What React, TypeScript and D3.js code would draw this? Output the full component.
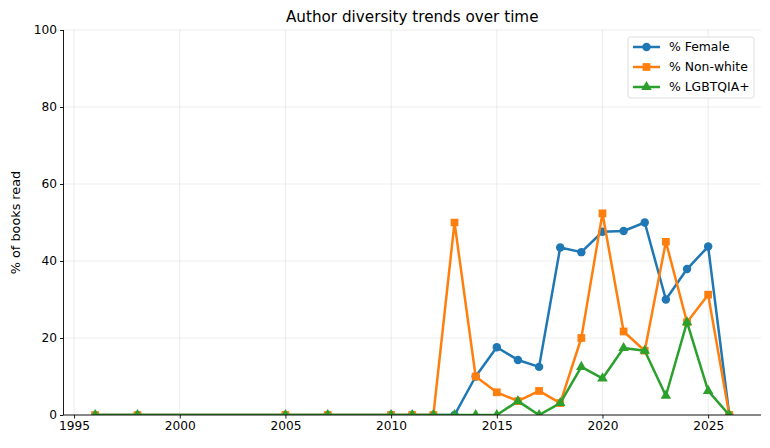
import { useEffect, useRef } from 'react';
import * as d3 from 'd3';

const years = [1996, 1998, 2005, 2007, 2010, 2011, 2012, 2013, 2014, 2015, 2016, 2017, 2018, 2019, 2020, 2021, 2022, 2023, 2024, 2025, 2026];
const female = [0, 0, 0, 0, 0, 0, 0, 0, 10, 17.6, 14.3, 12.5, 43.5, 42.3, 47.6, 47.8, 50, 30, 37.9, 43.75, 0];
const nonWhite = [0, 0, 0, 0, 0, 0, 0, 50, 10, 5.9, 3.6, 6.25, 3.1, 20, 52.4, 21.7, 16.7, 45, 24.1, 31.25, 0];
const lgbtqia = [0, 0, 0, 0, 0, 0, 0, 0, 0, 0, 3.6, 0, 3.1, 12.5, 9.5, 17.4, 16.7, 5, 24.1, 6.25, 0];
const xTicks = [1995, 2000, 2005, 2010, 2015, 2020, 2025];
const yTicks = [0, 20, 40, 60, 80, 100];

const series = [
  { name: '% Female', values: female, color: '#1f77b4', marker: 'circle' },
  { name: '% Non-white', values: nonWhite, color: '#ff7f0e', marker: 'square' },
  { name: '% LGBTQIA+', values: lgbtqia, color: '#2ca02c', marker: 'triangle' },
];

const W = 770;
const H = 448;
const margin = { top: 30, right: 9, bottom: 33, left: 63.5 };
const FONT = 'DejaVu Sans, sans-serif';

function symbolFor(kind: string) {
  if (kind === 'square') return d3.symbol(d3.symbolSquare, 60)();
  if (kind === 'triangle') return d3.symbol(d3.symbolTriangle, 48)();
  return d3.symbol(d3.symbolCircle, 56)();
}

export default function App() {
  const ref = useRef<SVGSVGElement>(null);

  useEffect(() => {
    const svg = d3.select(ref.current);
    svg.selectAll('*').remove();

    const x0 = margin.left;
    const x1 = W - margin.right;
    const y0 = H - margin.bottom;
    const y1 = margin.top;

    const x = d3.scaleLinear().domain([1994.5, 2027.5]).range([x0, x1]);
    const y = d3.scaleLinear().domain([0, 100]).range([y0, y1]);

    svg.append('defs').append('clipPath').attr('id', 'plot-clip')
      .append('rect').attr('x', x0).attr('y', y1).attr('width', x1 - x0).attr('height', y0 - y1);

    // grid
    const grid = svg.append('g').attr('stroke', '#b0b0b0').attr('stroke-opacity', 0.3).attr('stroke-width', 0.8);
    xTicks.forEach(t => grid.append('line').attr('x1', x(t)).attr('x2', x(t)).attr('y1', y0).attr('y2', y1));
    yTicks.forEach(t => grid.append('line').attr('x1', x0).attr('x2', x1).attr('y1', y(t)).attr('y2', y(t)));

    // lines and markers
    const plot = svg.append('g').attr('clip-path', 'url(#plot-clip)');
    const line = d3.line<number>().x((_, i) => x(years[i])).y(d => y(d));
    series.forEach(s => {
      plot.append('path').datum(s.values).attr('d', line)
        .attr('fill', 'none').attr('stroke', s.color).attr('stroke-width', 2.5).attr('stroke-linejoin', 'round');
      plot.append('g').selectAll('path').data(s.values).join('path')
        .attr('d', symbolFor(s.marker))
        .attr('transform', (d, i) => `translate(${x(years[i])},${y(d)})`)
        .attr('fill', s.color);
    });

    // axes
    const xAxis = svg.append('g').attr('transform', `translate(0,${y0})`)
      .call(d3.axisBottom(x).tickValues(xTicks).tickFormat(d3.format('d')).tickSizeOuter(0).tickSize(3.5).tickPadding(3));
    const yAxis = svg.append('g').attr('transform', `translate(${x0},0)`)
      .call(d3.axisLeft(y).tickValues(yTicks).tickSizeOuter(0).tickSize(3.5).tickPadding(3));
    [xAxis, yAxis].forEach(a => {
      a.selectAll('text').attr('font-family', FONT).attr('font-size', 12.2).attr('fill', '#000');
      a.selectAll('line').attr('stroke', '#000').attr('stroke-width', 0.9);
      a.select('.domain').attr('stroke', '#000').attr('stroke-width', 0.9);
    });
    xAxis.select('.domain').attr('d', `M${x0},0H${x1}`);
    yAxis.select('.domain').attr('d', `M0,${y0}V${y1}`);

    // title and y label
    svg.append('text').attr('x', (x0 + x1) / 2).attr('y', 22).attr('text-anchor', 'middle')
      .attr('font-family', FONT).attr('font-size', 15.2).text('Author diversity trends over time');
    svg.append('text').attr('transform', `translate(20,${(y0 + y1) / 2}) rotate(-90)`)
      .attr('text-anchor', 'middle').attr('font-family', FONT).attr('font-size', 12.8)
      .text('% of books read');

    // legend
    const lg = svg.append('g').attr('transform', 'translate(628,37)');
    lg.append('rect').attr('width', 126).attr('height', 61).attr('rx', 2.5)
      .attr('fill', '#fff').attr('fill-opacity', 0.8).attr('stroke', '#d5d5d5').attr('stroke-width', 0.8);
    series.forEach((s, i) => {
      const ly = 10 + i * 20;
      lg.append('line').attr('x1', 5).attr('x2', 32).attr('y1', ly).attr('y2', ly)
        .attr('stroke', s.color).attr('stroke-width', 2.5);
      lg.append('path').attr('d', symbolFor(s.marker)).attr('transform', `translate(18.5,${ly})`).attr('fill', s.color);
      lg.append('text').attr('x', 41).attr('y', ly).attr('dy', '0.35em')
        .attr('font-family', FONT).attr('font-size', 12.4).text(s.name);
    });
  }, []);

  return <svg ref={ref} width={W} height={H} style={{ display: 'block', margin: '-8px' }} />;
}
